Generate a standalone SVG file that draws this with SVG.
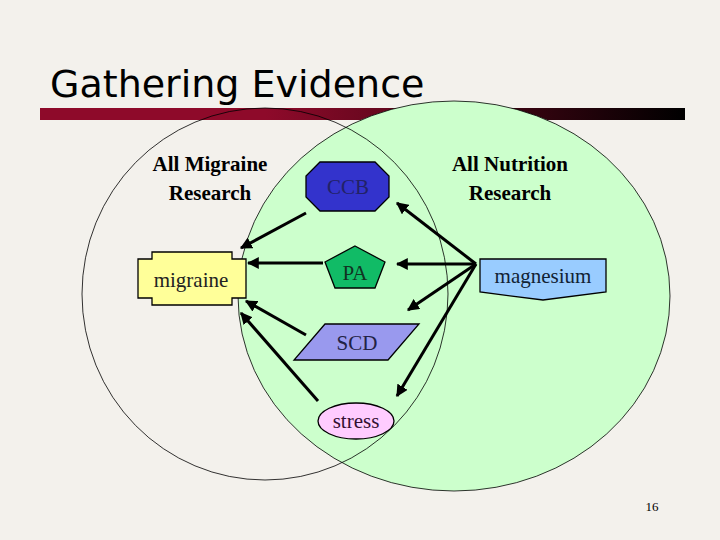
<svg xmlns="http://www.w3.org/2000/svg" width="720" height="540" viewBox="0 0 720 540">
<defs>
<linearGradient id="bar" x1="0" x2="1"><stop offset="0" stop-color="#8e0a2a"/><stop offset="0.35" stop-color="#8e0a2a"/><stop offset="1" stop-color="#000"/></linearGradient>
<marker id="ah" viewBox="0 0 10 10" refX="9" refY="5" markerWidth="4" markerHeight="4" orient="auto"><path d="M0,0L10,5L0,10z" fill="#000"/></marker>
</defs>
<style>
.n{stroke:#000;stroke-width:1.3}
.t{font-family:"Liberation Serif",serif;font-size:21px;text-anchor:middle}
.b{font-family:"Liberation Serif",serif;font-size:21px;font-weight:bold;text-anchor:middle}
#conn line{stroke:#000;stroke-width:3;marker-end:url(#ah)}
</style>
<rect width="720" height="540" fill="#f3f1ec"/>
<text x="50" y="97" font-family="DejaVu Sans,sans-serif" font-size="38" fill="#000">Gathering Evidence</text>
<rect x="40" y="108" width="645" height="12" fill="url(#bar)"/>
<ellipse cx="454" cy="296" rx="216" ry="195" fill="#ccffcc" stroke="#000" stroke-width="0.8"/>
<ellipse cx="265" cy="294" rx="183" ry="186" fill="none" stroke="#000" stroke-width="0.8"/>
<text class="b" x="210" y="171">All Migraine</text><text class="b" x="210" y="200">Research</text>
<text class="b" x="510" y="171">All Nutrition</text><text class="b" x="510" y="200">Research</text>
<g id="ccb"><polygon class="n" points="320,162 375,162 389,176 389,197 375,211 320,211 306,197 306,176" fill="#3333cc"/><text class="t" x="348" y="194" fill="#222266">CCB</text></g>
<g id="pa"><polygon class="n" points="355,246 385,262 375,288 335,288 325,262" fill="#11bb66"/><text class="t" x="355" y="280" fill="#113322">PA</text></g>
<g id="migraine"><polygon class="n" points="152,252 232,252 232,259 246,259 246,298 232,298 232,305 152,305 152,298 138,298 138,259 152,259" fill="#ffff99"/><text class="t" x="191" y="287" fill="#222">migraine</text></g>
<g id="magnesium"><polygon class="n" points="480,259 606,259 606,292 543,300 480,292" fill="#99ccff"/><text class="t" x="543" y="283" fill="#112233">magnesium</text></g>
<g id="scd"><polygon class="n" points="325,324 419,324 388,360 294,360" fill="#9999ee"/><text class="t" x="357" y="350" fill="#222244">SCD</text></g>
<g id="stress"><ellipse class="n" cx="356" cy="421" rx="38" ry="18" fill="#ffccff"/><text class="t" x="356" y="428" fill="#331133">stress</text></g>
<g id="conn">
<line x1="476" y1="264" x2="397" y2="203"/>
<line x1="476" y1="264" x2="397" y2="264"/>
<line x1="476" y1="264" x2="408" y2="310"/>
<line x1="476" y1="264" x2="397" y2="396"/>
<line x1="306" y1="213" x2="241" y2="248"/>
<line x1="323" y1="263" x2="248" y2="263"/>
<line x1="306" y1="335" x2="246" y2="301"/>
<line x1="318" y1="401" x2="241" y2="313"/>
</g>
<text x="652" y="511" font-family="Liberation Serif,serif" font-size="13" text-anchor="middle">16</text>
</svg>
